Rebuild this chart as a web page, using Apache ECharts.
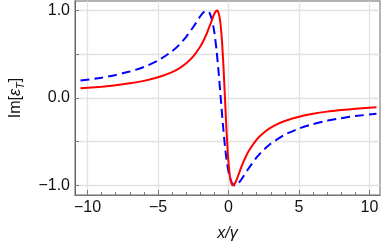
<!DOCTYPE html>
<html>
<head>
<meta charset="utf-8">
<script src="https://cdn.jsdelivr.net/npm/echarts@6/dist/echarts.min.js"></script>
<style>
html,body{margin:0;padding:0;background:#fff;}
#main{width:382px;height:247px;}
</style>
</head>
<body>
<div id="main"></div>
<script>
// Red solid curve
var redX = [-10.5,-9,-8,-7,-6,-5,-4,-3.5,-3,-2.5,-2,-1.75,-1.5,-1.25,-1.1,-1,-0.9,-0.82,-0.75,-0.65,-0.55,-0.45,-0.35,-0.25,-0.15,-0.05,0.05,0.15,0.25,0.32,0.4,0.5,0.6,0.75,1,1.25,1.5,2,2.5,3,3.5,4,5,6,7,8,9,10.5];
var redY = [0.111,0.130,0.146,0.168,0.196,0.237,0.297,0.340,0.398,0.476,0.589,0.664,0.755,0.860,0.925,0.964,0.991,1.0,0.991,0.940,0.824,0.625,0.340,0,-0.340,-0.625,-0.824,-0.940,-0.991,-1.0,-0.991,-0.964,-0.925,-0.860,-0.755,-0.664,-0.589,-0.476,-0.398,-0.340,-0.297,-0.264,-0.215,-0.181,-0.156,-0.138,-0.123,-0.106];
// Blue dashed curve
var blueX = [-10.5,-9,-8,-7,-6,-5,-4,-3.5,-3,-2.5,-2,-1.75,-1.55,-1.35,-1.15,-1,-0.85,-0.7,-0.55,-0.4,-0.25,-0.1,0.05,0.25,0.45,0.65,0.9,1.4,1.9,2.4,3,4,5,6,7,8,9,10.5];
var blueY = [0.199,0.233,0.264,0.303,0.355,0.428,0.535,0.608,0.700,0.812,0.935,0.984,1.0,0.976,0.882,0.748,0.551,0.293,0,-0.293,-0.551,-0.748,-0.882,-0.976,-1.0,-0.984,-0.935,-0.812,-0.700,-0.608,-0.522,-0.419,-0.349,-0.298,-0.260,-0.231,-0.207,-0.180];
// Ticks
var xMajorTicks = [-10,-5,0,5,10];
var xMinorTicks = [-10,-9,-8,-7,-6,-5,-4,-3,-2,-1,0,1,2,3,4,5,6,7,8,9,10];
var yGridTicks = [-1,-0.5,0,0.5,1];
var yLabelTicks = [-1,0,1];

function pairs(xs, ys){ return xs.map(function(x,i){ return [x, ys[i]]; }); }
function fmtY(v){ var s = Math.abs(v).toFixed(1); return (v < 0 ? '\u2212' : '') + s; }
function fmtX(v){ return (v < 0 ? '\u2212' : '') + Math.abs(v); }

var chart = echarts.init(document.getElementById('main'), null, {renderer:'canvas'});
var font = '"Liberation Sans", Arial, sans-serif';
var xMin = -10.89, xMax = 10.75, yMin = -1.11, yMax = 1.11;

chart.setOption({
  animation: false,
  backgroundColor: '#fff',
  grid: {left: 63, right: 2, top: 1, bottom: 51, show: true, borderColor: '#999', borderWidth: 1.5},
  xAxis: [{
    type: 'value', min: xMin, max: xMax, position: 'bottom',
    name: 'x/\u03b3', nameLocation: 'middle', nameGap: 31,
    nameTextStyle: {fontFamily: font, fontSize: 16, fontStyle: 'italic', color: '#111'},
    axisLine: {show: true, onZero: false, lineStyle: {color: '#777', width: 1}},
    axisTick: {show: true, inside: true, length: 5, customValues: xMajorTicks, lineStyle: {color: '#777'}},
    axisLabel: {customValues: xMajorTicks, formatter: fmtX, fontFamily: font, fontSize: 16, color: '#111', margin: 5},
    splitLine: {show: true, lineStyle: {color: '#e2e2e2', width: 1.3}}
  },{
    type: 'value', min: xMin, max: xMax, position: 'bottom',
    axisLine: {show: false, onZero: false},
    axisTick: {show: true, inside: true, length: 3, customValues: xMinorTicks, lineStyle: {color: '#777'}},
    axisLabel: {show: false},
    splitLine: {show: false}
  }],
  yAxis: [{
    type: 'value', min: yMin, max: yMax,
    name: '{a|Im[}{e|\u03b5}{s|T}{a|]}', nameLocation: 'middle', nameGap: 49, nameRotate: 90,
    nameTextStyle: {
      fontFamily: font, fontSize: 16, color: '#111',
      rich: {
        a: {fontFamily: font, fontSize: 16, color: '#111'},
        e: {fontFamily: font, fontSize: 16, fontStyle: 'italic', color: '#111'},
        s: {fontFamily: font, fontSize: 11, fontStyle: 'italic', color: '#111', verticalAlign: 'bottom', padding: [9,0,0,0]}
      }
    },
    axisLine: {show: true, onZero: false, lineStyle: {color: '#666', width: 1}},
    axisTick: {show: true, inside: true, length: 4, customValues: yGridTicks, lineStyle: {color: '#777'}},
    axisLabel: {customValues: yLabelTicks, formatter: fmtY, fontFamily: font, fontSize: 16, color: '#111', margin: 5},
    splitLine: {show: true, lineStyle: {color: '#e2e2e2', width: 1.3}}
  }],
  series: [{
    type: 'line', xAxisIndex: 0, yAxisIndex: 0,
    data: pairs(blueX, blueY), showSymbol: false, smooth: 0.2,
    lineStyle: {color: '#0000ff', width: 2, type: [9,5]}, z: 2
  },{
    type: 'line', xAxisIndex: 0, yAxisIndex: 0,
    data: pairs(redX, redY), showSymbol: false, smooth: 0.2,
    lineStyle: {color: '#ff0000', width: 2}, z: 3
  }]
});
</script>
</body>
</html>
